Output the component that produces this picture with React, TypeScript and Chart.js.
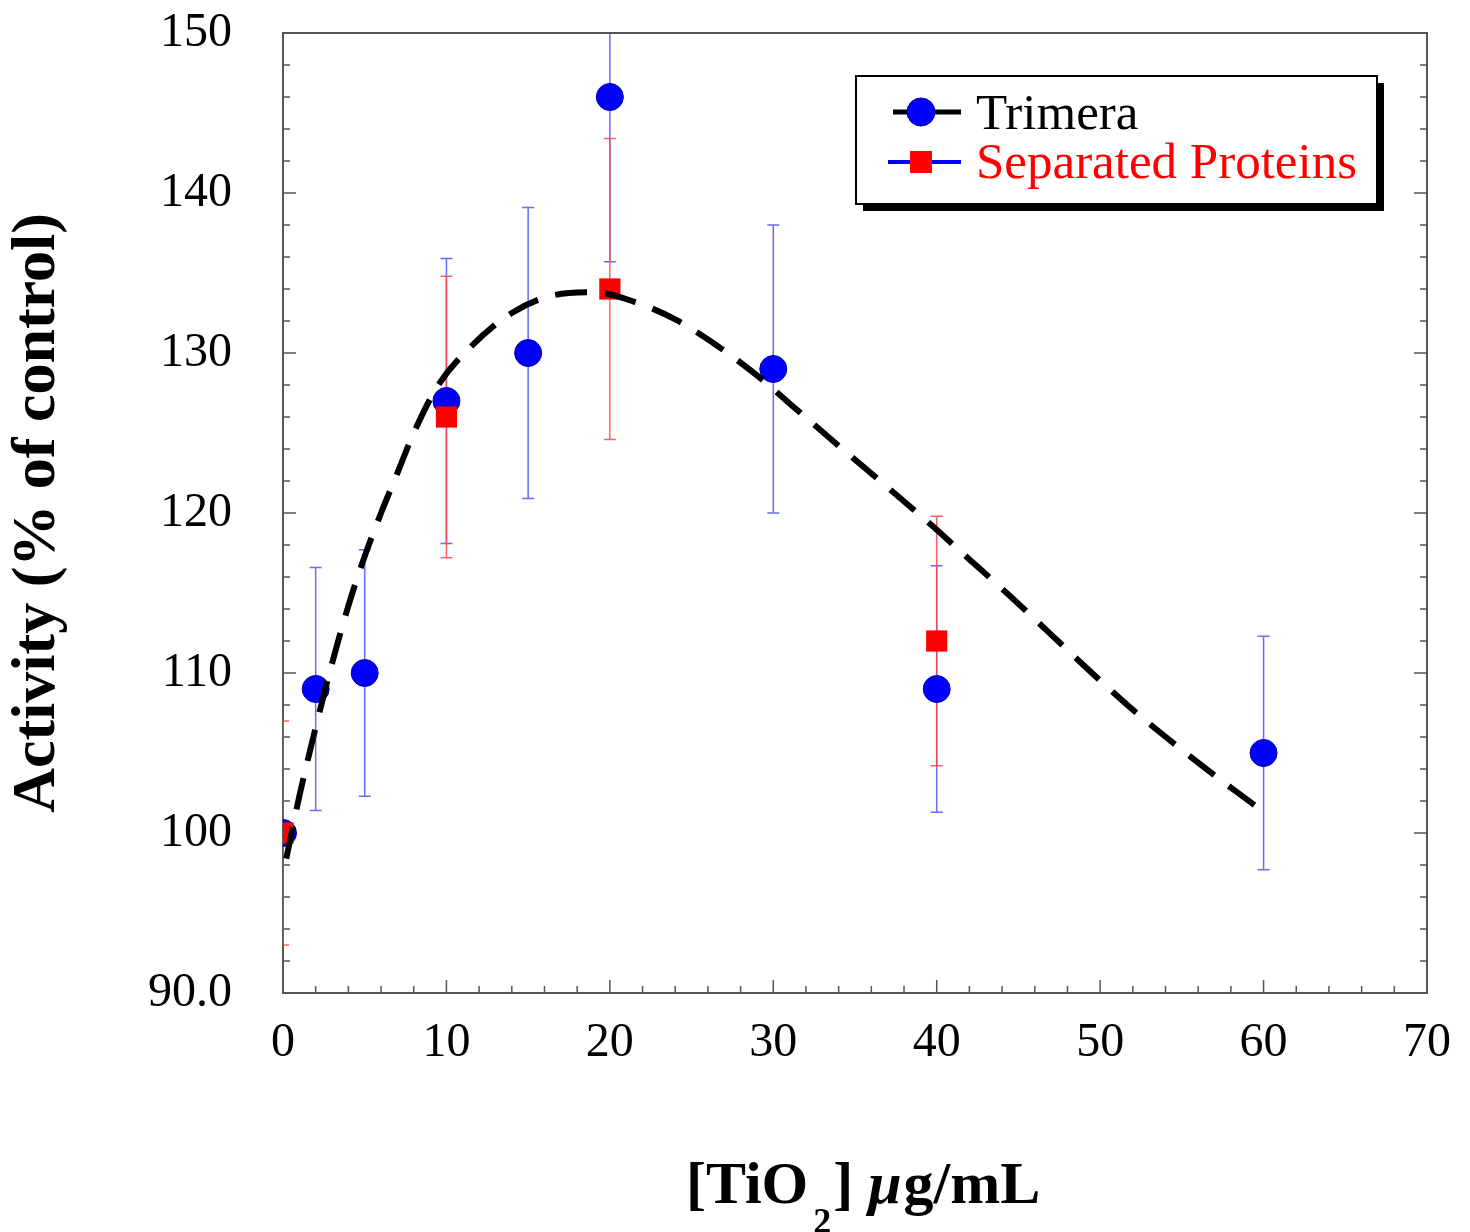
import React, { useEffect, useRef } from 'react';
import { Chart, registerables } from 'chart.js';

Chart.register(...registerables);

// ---- data ----
const trimeraX = [0, 2, 5, 10, 15, 20, 30, 40, 60];
const trimeraY = [100, 109, 110, 127, 130, 146, 129, 109, 105];
const trimeraErr = [0, 7.6, 7.7, 8.9, 9.1, 10.3, 9.0, 7.7, 7.3];

const separatedX = [0, 10, 20, 40];
const separatedY = [100, 126, 134, 112];
const separatedErr = [7, 8.8, 9.4, 7.8];

const curveX = [0.2, 1, 2, 3, 4, 5, 6, 7, 8, 9.5, 11.5, 14, 16.5, 19, 21.5, 24, 26.5, 29, 31.5, 34, 37, 39.5, 42, 44.5, 47, 49.5, 52, 54.5, 57, 59.5, 60];
const curveY = [98.4, 102.3, 106.6, 110.6, 114.2, 117.3, 120.0, 122.5, 125.0, 128.0, 130.4, 132.5, 133.6, 133.8, 133.2, 132.1, 130.5, 128.6, 126.4, 124.2, 121.6, 119.4, 117.1, 114.8, 112.4, 110.0, 107.7, 105.6, 103.6, 101.7, 101.3];

const xTickValues = [0, 10, 20, 30, 40, 50, 60, 70];
const yTickValues = [90, 100, 110, 120, 130, 140, 150];
const yTickLabels = ['90.0', '100', '110', '120', '130', '140', '150'];
const xMinorStep = 2;
const yMinorStep = 2;

const legendLabels = ['Trimera', 'Separated Proteins'];
const yTitle = 'Activity (% of control)';

const SERIF = "'Liberation Serif', 'Times New Roman', serif";

export default function App() {
  const ref = useRef<HTMLCanvasElement>(null);

  useEffect(() => {
    const canvas = ref.current;
    if (!canvas) return;

    const framePlugin = {
      id: 'framePlugin',
      beforeDatasetsDraw(chart: any) {
        const { ctx, chartArea: a, scales } = chart;
        const xs = scales.x;
        const ys = scales.y;
        ctx.save();
        ctx.strokeStyle = '#555';
        ctx.lineWidth = 1.5;
        ctx.beginPath();
        for (let v = xs.min; v <= xs.max + 1e-9; v += xMinorStep) {
          const px = xs.getPixelForValue(v);
          const len = Math.abs(v % 10) < 1e-9 ? 13 : 7;
          ctx.moveTo(px, a.bottom);
          ctx.lineTo(px, a.bottom - len);
        }
        for (let v = ys.min; v <= ys.max + 1e-9; v += yMinorStep) {
          const py = ys.getPixelForValue(v);
          const len = Math.abs(v % 10) < 1e-9 ? 13 : 7;
          ctx.moveTo(a.left, py);
          ctx.lineTo(a.left + len, py);
          ctx.moveTo(a.right, py);
          ctx.lineTo(a.right - len, py);
        }
        ctx.stroke();
        ctx.lineWidth = 2;
        ctx.strokeRect(a.left, a.top, a.right - a.left, a.bottom - a.top);

        // error bars
        ctx.beginPath();
        ctx.rect(a.left, a.top, a.right - a.left, a.bottom - a.top);
        ctx.clip();
        const drawErr = (xsArr: number[], ysArr: number[], es: number[], color: string) => {
          ctx.strokeStyle = color;
          ctx.lineWidth = 1.5;
          ctx.beginPath();
          for (let i = 0; i < xsArr.length; i++) {
            if (!es[i]) continue;
            const px = xs.getPixelForValue(xsArr[i]);
            const top = ys.getPixelForValue(ysArr[i] + es[i]);
            const bot = ys.getPixelForValue(ysArr[i] - es[i]);
            ctx.moveTo(px, top);
            ctx.lineTo(px, bot);
            ctx.moveTo(px - 6, top);
            ctx.lineTo(px + 6, top);
            ctx.moveTo(px - 6, bot);
            ctx.lineTo(px + 6, bot);
          }
          ctx.stroke();
        };
        drawErr(trimeraX, trimeraY, trimeraErr, 'rgba(80,80,255,0.85)');
        drawErr(separatedX, separatedY, separatedErr, 'rgba(255,70,70,0.85)');
        ctx.restore();
      },
    };

    const overlayPlugin = {
      id: 'overlayPlugin',
      afterDraw(chart: any) {
        const { ctx, chartArea: a } = chart;
        ctx.save();
        // legend box
        const lx = a.right - 571;
        const ly = a.top + 43;
        const lw = 521;
        const lh = 128;
        ctx.fillStyle = '#000';
        ctx.fillRect(lx + 7, ly + 7, lw, lh);
        ctx.fillStyle = '#fff';
        ctx.fillRect(lx, ly, lw, lh);
        ctx.strokeStyle = '#000';
        ctx.lineWidth = 2;
        ctx.strokeRect(lx, ly, lw, lh);

        // entry 1
        const r1 = ly + 36;
        ctx.strokeStyle = '#000';
        ctx.lineWidth = 5;
        ctx.beginPath();
        ctx.moveTo(lx + 37, r1);
        ctx.lineTo(lx + 105, r1);
        ctx.stroke();
        ctx.fillStyle = '#0000ff';
        ctx.strokeStyle = '#0000aa';
        ctx.lineWidth = 1;
        ctx.beginPath();
        ctx.arc(lx + 65, r1, 14, 0, Math.PI * 2);
        ctx.fill();
        ctx.stroke();
        ctx.font = `51px ${SERIF}`;
        ctx.textAlign = 'left';
        ctx.textBaseline = 'alphabetic';
        ctx.fillStyle = '#000';
        ctx.fillText(legendLabels[0], lx + 120, r1 + 17);

        // entry 2
        const r2 = ly + 86;
        ctx.strokeStyle = '#0000ff';
        ctx.lineWidth = 4;
        ctx.beginPath();
        ctx.moveTo(lx + 32, r2);
        ctx.lineTo(lx + 105, r2);
        ctx.stroke();
        ctx.fillStyle = '#ff0000';
        ctx.fillRect(lx + 54, r2 - 11, 22, 22);
        ctx.fillStyle = '#ff0000';
        ctx.fillText(legendLabels[1], lx + 120, r2 + 16);

        // x axis title with subscript
        const baseY = 1203;
        let x = 686;
        ctx.fillStyle = '#000';
        ctx.font = `bold 60px ${SERIF}`;
        ctx.fillText('[TiO', x, baseY);
        x += ctx.measureText('[TiO').width + 5;
        ctx.font = `bold 36px ${SERIF}`;
        ctx.fillText('2', x, baseY + 30);
        x += ctx.measureText('2').width + 2;
        ctx.font = `bold 60px ${SERIF}`;
        ctx.fillText(']', x, baseY);
        x += ctx.measureText('] ').width;
        ctx.font = `italic bold 60px ${SERIF}`;
        ctx.fillText('\u03bc', x, baseY);
        x += ctx.measureText('\u03bc').width + 2;
        ctx.font = `bold 60px ${SERIF}`;
        ctx.fillText('g/mL', x, baseY);
        ctx.restore();
      },
    };

    const chart = new Chart(canvas, {
      type: 'scatter',
      data: {
        datasets: [
          {
            type: 'line',
            label: 'fit',
            data: curveX.map((v, i) => ({ x: v, y: curveY[i] })),
            borderColor: '#000',
            borderWidth: 6,
            borderDash: [32, 18],
            pointRadius: 0,
            cubicInterpolationMode: 'monotone',
            fill: false,
            order: 0,
          } as any,
          {
            label: legendLabels[1],
            data: separatedX.map((v, i) => ({ x: v, y: separatedY[i] })),
            pointStyle: 'rect',
            pointRadius: 15,
            backgroundColor: '#ff0000',
            borderColor: '#ff0000',
            borderWidth: 0,
            order: 1,
          },
          {
            label: legendLabels[0],
            data: trimeraX.map((v, i) => ({ x: v, y: trimeraY[i] })),
            pointStyle: 'circle',
            pointRadius: 13.5,
            backgroundColor: '#0000ff',
            borderColor: '#0000aa',
            borderWidth: 1,
            order: 2,
          },
        ],
      },
      options: {
        responsive: false,
        animation: false,
        layout: { padding: { top: 33, right: 43, left: 0, bottom: 0 } },
        plugins: {
          legend: { display: false },
          tooltip: { enabled: false },
        },
        scales: {
          x: {
            type: 'linear',
            min: 0,
            max: 70,
            afterFit: (s: any) => {
              s.height = 239;
              s.paddingLeft = 0; s.paddingRight = 0; s.paddingTop = 0; s.paddingBottom = 0;
            },
            afterBuildTicks: (s: any) => { s.ticks = xTickValues.map((v) => ({ value: v })); },
            grid: { display: false, drawTicks: false },
            border: { display: false },
            ticks: {
              color: '#000',
              padding: 22,
              maxRotation: 0,
              font: { family: SERIF, size: 48 },
            },
          },
          y: {
            type: 'linear',
            min: 90,
            max: 150,
            afterFit: (s: any) => {
              s.width = 283;
              s.paddingLeft = 0; s.paddingRight = 0; s.paddingTop = 0; s.paddingBottom = 0;
            },
            afterBuildTicks: (s: any) => { s.ticks = yTickValues.map((v) => ({ value: v })); },
            grid: { display: false, drawTicks: false },
            border: { display: false },
            ticks: {
              color: '#000',
              padding: 51,
              font: { family: SERIF, size: 48 },
              callback: (v: any) => {
                const i = yTickValues.indexOf(Number(v));
                return i >= 0 ? yTickLabels[i] : '';
              },
            },
            title: {
              display: true,
              text: yTitle,
              color: '#000',
              padding: { top: 1, bottom: 0 },
              font: { family: SERIF, size: 62, weight: 'bold' },
            },
          },
        },
      },
      plugins: [framePlugin, overlayPlugin],
    } as any);

    return () => chart.destroy();
  }, []);

  return (
    <div style={{ position: 'absolute', left: 0, top: 0, width: 1470, height: 1232, background: '#fff' }}>
      <canvas ref={ref} width={1470} height={1232} style={{ width: 1470, height: 1232, display: 'block' }} />
    </div>
  );
}
